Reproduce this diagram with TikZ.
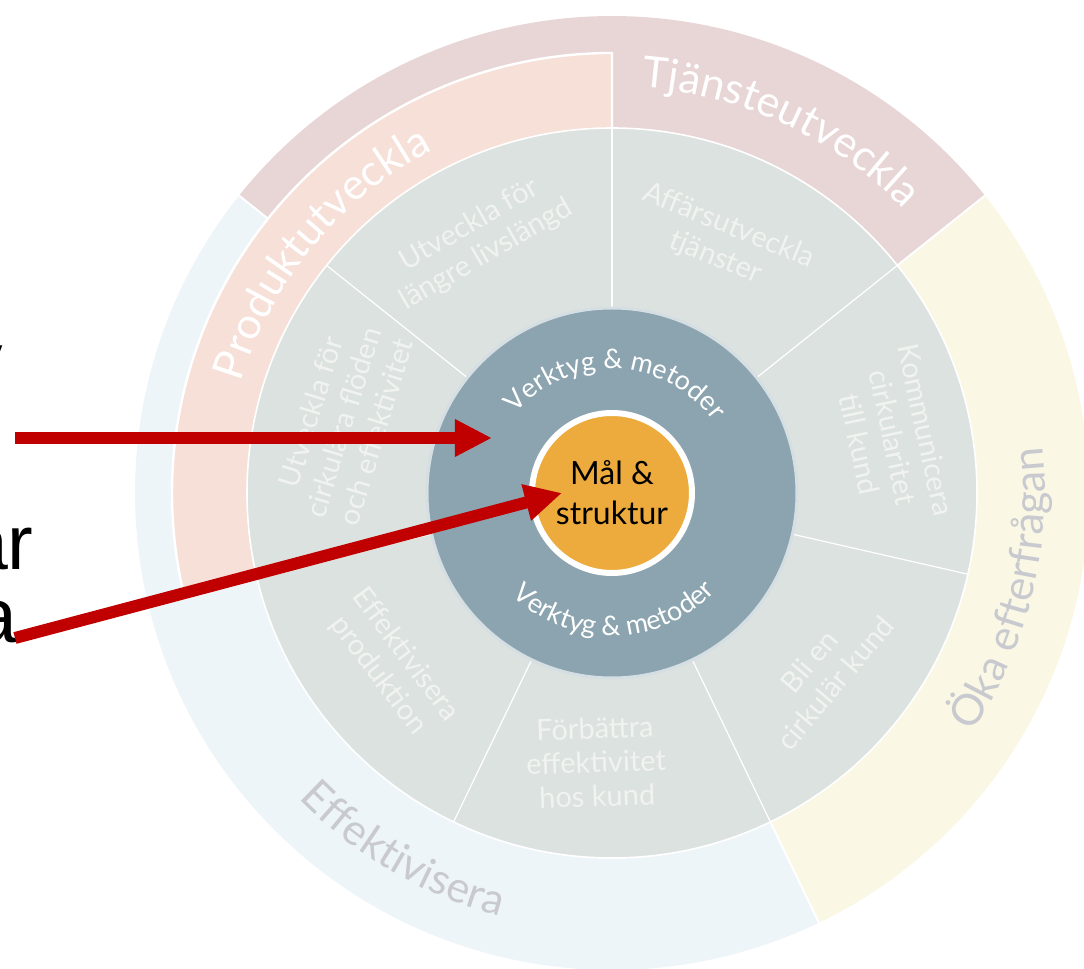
\documentclass[tikz,border=0pt]{standalone}
\usepackage{fontspec}
\setmainfont{Lato}
\newfontfamily\sidefont{Liberation Sans}
\usetikzlibrary{arrows.meta,decorations.text}

\definecolor{goalgold}{HTML}{ECAB3C}
\definecolor{toolsblue}{HTML}{8BA4AF}
\definecolor{toolsrim}{HTML}{D5DEE2}
\definecolor{seggray}{HTML}{DCE2DF}
\definecolor{segtextwhite}{HTML}{F1F3F1}
\definecolor{servicemauve}{HTML}{E8D5D6}
\definecolor{productpeach}{HTML}{F6E0D8}
\definecolor{effblue}{HTML}{EEF5F9}
\definecolor{demandyellow}{HTML}{FAF7E5}
\definecolor{ringgray}{HTML}{C9CACF}
\definecolor{arrowred}{HTML}{C00000}

\newcommand{\ringfont}{\fontsize{21.5}{25}\selectfont}
\newcommand{\toolfont}{\fontsize{13.5}{16}\selectfont}

\begin{document}
\begin{tikzpicture}[x=0.5pt, y=0.5pt,
  every node/.style={font=\fontsize{14.5}{17}\selectfont},
  segtext/.style={text=segtextwhite, align=center, inner sep=0pt},
  sidetext/.style={font=\sidefont\fontsize{38.5}{40}\selectfont, anchor=base east, inner sep=0pt},
  redarrow/.style={draw=arrowred, line width=6pt, -{Triangle[length=18.5pt, width=17.5pt]}}]

  \useasboundingbox (-612,-476) rectangle (472,493);
  \clip (-612,-476) rectangle (472,493);

  \fill[servicemauve] (0,0) -- (38.57:477) arc[start angle=38.57, end angle=141.43, radius=477] -- cycle;
  \fill[effblue] (0,0) -- (141.43:477) arc[start angle=141.43, end angle=295.71, radius=477] -- cycle;
  \fill[demandyellow] (0,0) -- (295.71:477) arc[start angle=295.71, end angle=398.57, radius=477] -- cycle;
  \foreach \a in {38.57, 141.43, 295.71}
    \draw[white, line width=1pt] (0,0) -- (\a:477);
  \filldraw[fill=productpeach, draw=white, line width=1.2pt] (0,0) -- (90:440) arc[start angle=90, end angle=192.86, radius=440] -- cycle;

  \filldraw[fill=seggray, draw=white, line width=0.8pt] (0,0) circle (365);
  \foreach \k in {0,...,6}
    \draw[white, line width=0.6pt] ({90+\k*360/7}:185) -- ({90+\k*360/7}:365);

  \node[circle, fill=toolsblue, draw=toolsrim, line width=1.5pt, minimum size=185pt, inner sep=0pt] (tools) at (0,0) {};
  \node[circle, fill=goalgold, draw=white, line width=3pt, minimum size=80pt, inner sep=0pt, align=center, font=\fontsize{16}{20}\selectfont] (goal) at (0,0) {Mål \&\\struktur};

  \node[segtext, rotate=30] (longlife) at (-134,253) {Utveckla för\\längre livslängd};
  \node[segtext, rotate=-22] (services) at (110,251) {Affärsutveckla\\tjänster};
  \node[segtext, rotate=-78] (communicate) at (281,56) {Kommunicera\\cirkularitet\\till kund};
  \node[segtext, rotate=50] (customer) at (210,-179) {Bli en\\cirkulär kund};
  \node[segtext, rotate=2] (efficiency) at (-16,-269) {Förbättra\\effektivitet\\hos kund};
  \node[segtext, rotate=-53] (production) at (-220,-172) {Effektivisera\\produktion};
  \node[segtext, rotate=73] (flows) at (-269,71) {Utveckla för\\cirkulära flöden\\och effektivitet};

  \path[decorate, decoration={text along path, text align=center, text color=white, text={|\ringfont|Tjänsteutveckla}}] (100:407) arc[start angle=100, end angle=30, radius=407];
  \path[decorate, decoration={text along path, text align=center, text color=white, text={|\ringfont|Produktutveckla}}] (178:387) arc[start angle=178, end angle=103, radius=387];
  \path[decorate, decoration={text along path, text align=center, text color=ringgray, text={|\ringfont|Öka efterfrågan}}] (-50:433) arc[start angle=-50, end angle=22.5, radius=433];
  \path[decorate, decoration={text along path, text align=center, text color=ringgray, text={|\ringfont|Effektivisera}}] (215:438) arc[start angle=215, end angle=264.4, radius=438];
  \path[decorate, decoration={text along path, text align=center, text color=white, text={|\toolfont|Verktyg {\&} metoder}}] (160:124) arc[start angle=160, end angle=16, radius=124];
  \path[decorate, decoration={text along path, text align=center, text color=white, text={|\toolfont|Verktyg {\&} metoder}}] (200:143) arc[start angle=200, end angle=342, radius=143];

  \node[sidetext] (sidey) at (-609,106) {y};
  \node[sidetext] (sidear) at (-578,-77) {ar};
  \node[sidetext] (sidea) at (-594,-150) {a};

  \coordinate (toolsstart) at (-597,55);
  \coordinate (toolstip) at (-120,55);
  \coordinate (goalstart) at (-597,-145);
  \coordinate (goaltip) at (-50,0);
  \draw[redarrow] (toolsstart) -- (toolstip);
  \draw[redarrow] (goalstart) -- (goaltip);
\end{tikzpicture}
\end{document}
